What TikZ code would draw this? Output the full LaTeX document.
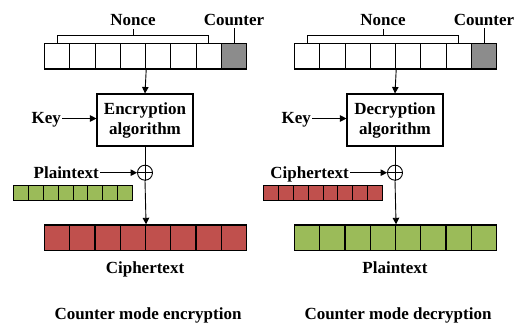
\documentclass[tikz,border=0pt]{standalone}
\usepackage{fontspec}
\setmainfont{Liberation Serif}
\usetikzlibrary{arrows.meta,calc}
\definecolor{ctrgray}{HTML}{8C8C8C}
\definecolor{ptgreen}{HTML}{9BBB59}
\definecolor{ctred}{HTML}{C0504D}

\begin{document}
\begin{tikzpicture}[x=1pt,y=-1pt,
  font=\fontsize{17}{20}\selectfont\bfseries,
  cell/.style={draw, line width=1.2pt, inner sep=0pt, minimum width=25.25pt,
    minimum height=25.6pt, anchor=north west},
  smallcell/.style={draw, line width=1pt, inner sep=0pt, minimum width=14.8pt,
    minimum height=15pt, anchor=north west},
  algbox/.style={draw, line width=1.1pt, minimum width=96pt, minimum height=52pt,
    align=center, inner sep=0pt},
  xorsym/.style={draw, circle, line width=0.9pt, minimum size=15pt, inner sep=0pt},
  wire/.style={line width=0.9pt},
  flow/.style={line width=0.9pt, -{Triangle[length=6.5pt,width=6.5pt]}},
  lbl/.style={inner sep=0pt}]
\useasboundingbox (0,0) rectangle (519,327);

\foreach \p/\dx/\alg/\inlbl/\incol/\outcol/\outlbl/\ttl in
  {L/0/Encryption/Plaintext/ptgreen/ctred/Ciphertext/Counter mode encryption,
   R/250/Decryption/Ciphertext/ctred/ptgreen/Plaintext/Counter mode decryption}{
\begin{scope}[xshift=\dx pt]
  % nonce + counter register
  \foreach \i in {1,...,7}
    \node[cell, fill=white] (\p-t\i) at ({44+(\i-1)*25.25},42.7) {};
  \node[cell, fill=ctrgray] (\p-t8) at ({44+7*25.25},42.7) {};

  % bracket over the nonce cells
  \draw[wire] (\p-t1.north) -- ++(0,-7) coordinate (\p-bl)
    -| (\p-t7.north);
  \coordinate (\p-bm) at ($(\p-bl)!0.5!(\p-t7.north |- \p-bl)$);
  \draw[wire] (\p-bm) -- ++(0,-6.5);
  \node[lbl, anchor=base] (\p-nonce) at (\p-bm |- 0,25.5) {Nonce};

  % counter tick
  \draw[wire] (\p-t8.north) -- ++(0,-15);
  \node[lbl, anchor=base] (\p-ctr) at (\p-t8.north |- 0,25.5) {Counter};

  % block cipher
  \node[algbox] (\p-alg) at (145,120) {\alg\\algorithm};
  \draw[flow] (\p-t4.south east) -- (\p-alg.north);

  \node[lbl, anchor=base east] (\p-key) at (61,123.5) {Key};
  \coordinate (\p-keyo) at (62,118.5);
  \draw[flow] (\p-keyo) -- (\p-keyo -| \p-alg.west);

  % xor
  \node[xorsym] (\p-xor) at (145,172.7) {};
  \draw[wire] (\p-xor.north) -- (\p-xor.south);
  \draw[wire] (\p-xor.west) -- (\p-xor.east);
  \draw[wire] (\p-alg.south) -- (\p-xor.north);

  \node[lbl, anchor=base east] (\p-in) at (99,178.5) {\inlbl};
  \coordinate (\p-ino) at (100,172.7);
  \draw[flow] (\p-ino) -- (\p-xor.west);

  % input blocks
  \foreach \i in {1,...,8}
    \node[smallcell, fill=\incol] (\p-s\i) at ({13.3+(\i-1)*14.8},185) {};

  % output blocks
  \foreach \i in {1,...,8}
    \node[cell, fill=\outcol] (\p-o\i) at ({43.7+(\i-1)*25.3},224.3) {};
  \draw[flow] (\p-xor.south) -- (\p-o4.north east);

  \node[lbl, anchor=base] (\p-out) at (145,273.3) {\outlbl};
  \node[lbl, anchor=base] (\p-title) at (148,319) {\ttl};
\end{scope}
}
\end{tikzpicture}
\end{document}
